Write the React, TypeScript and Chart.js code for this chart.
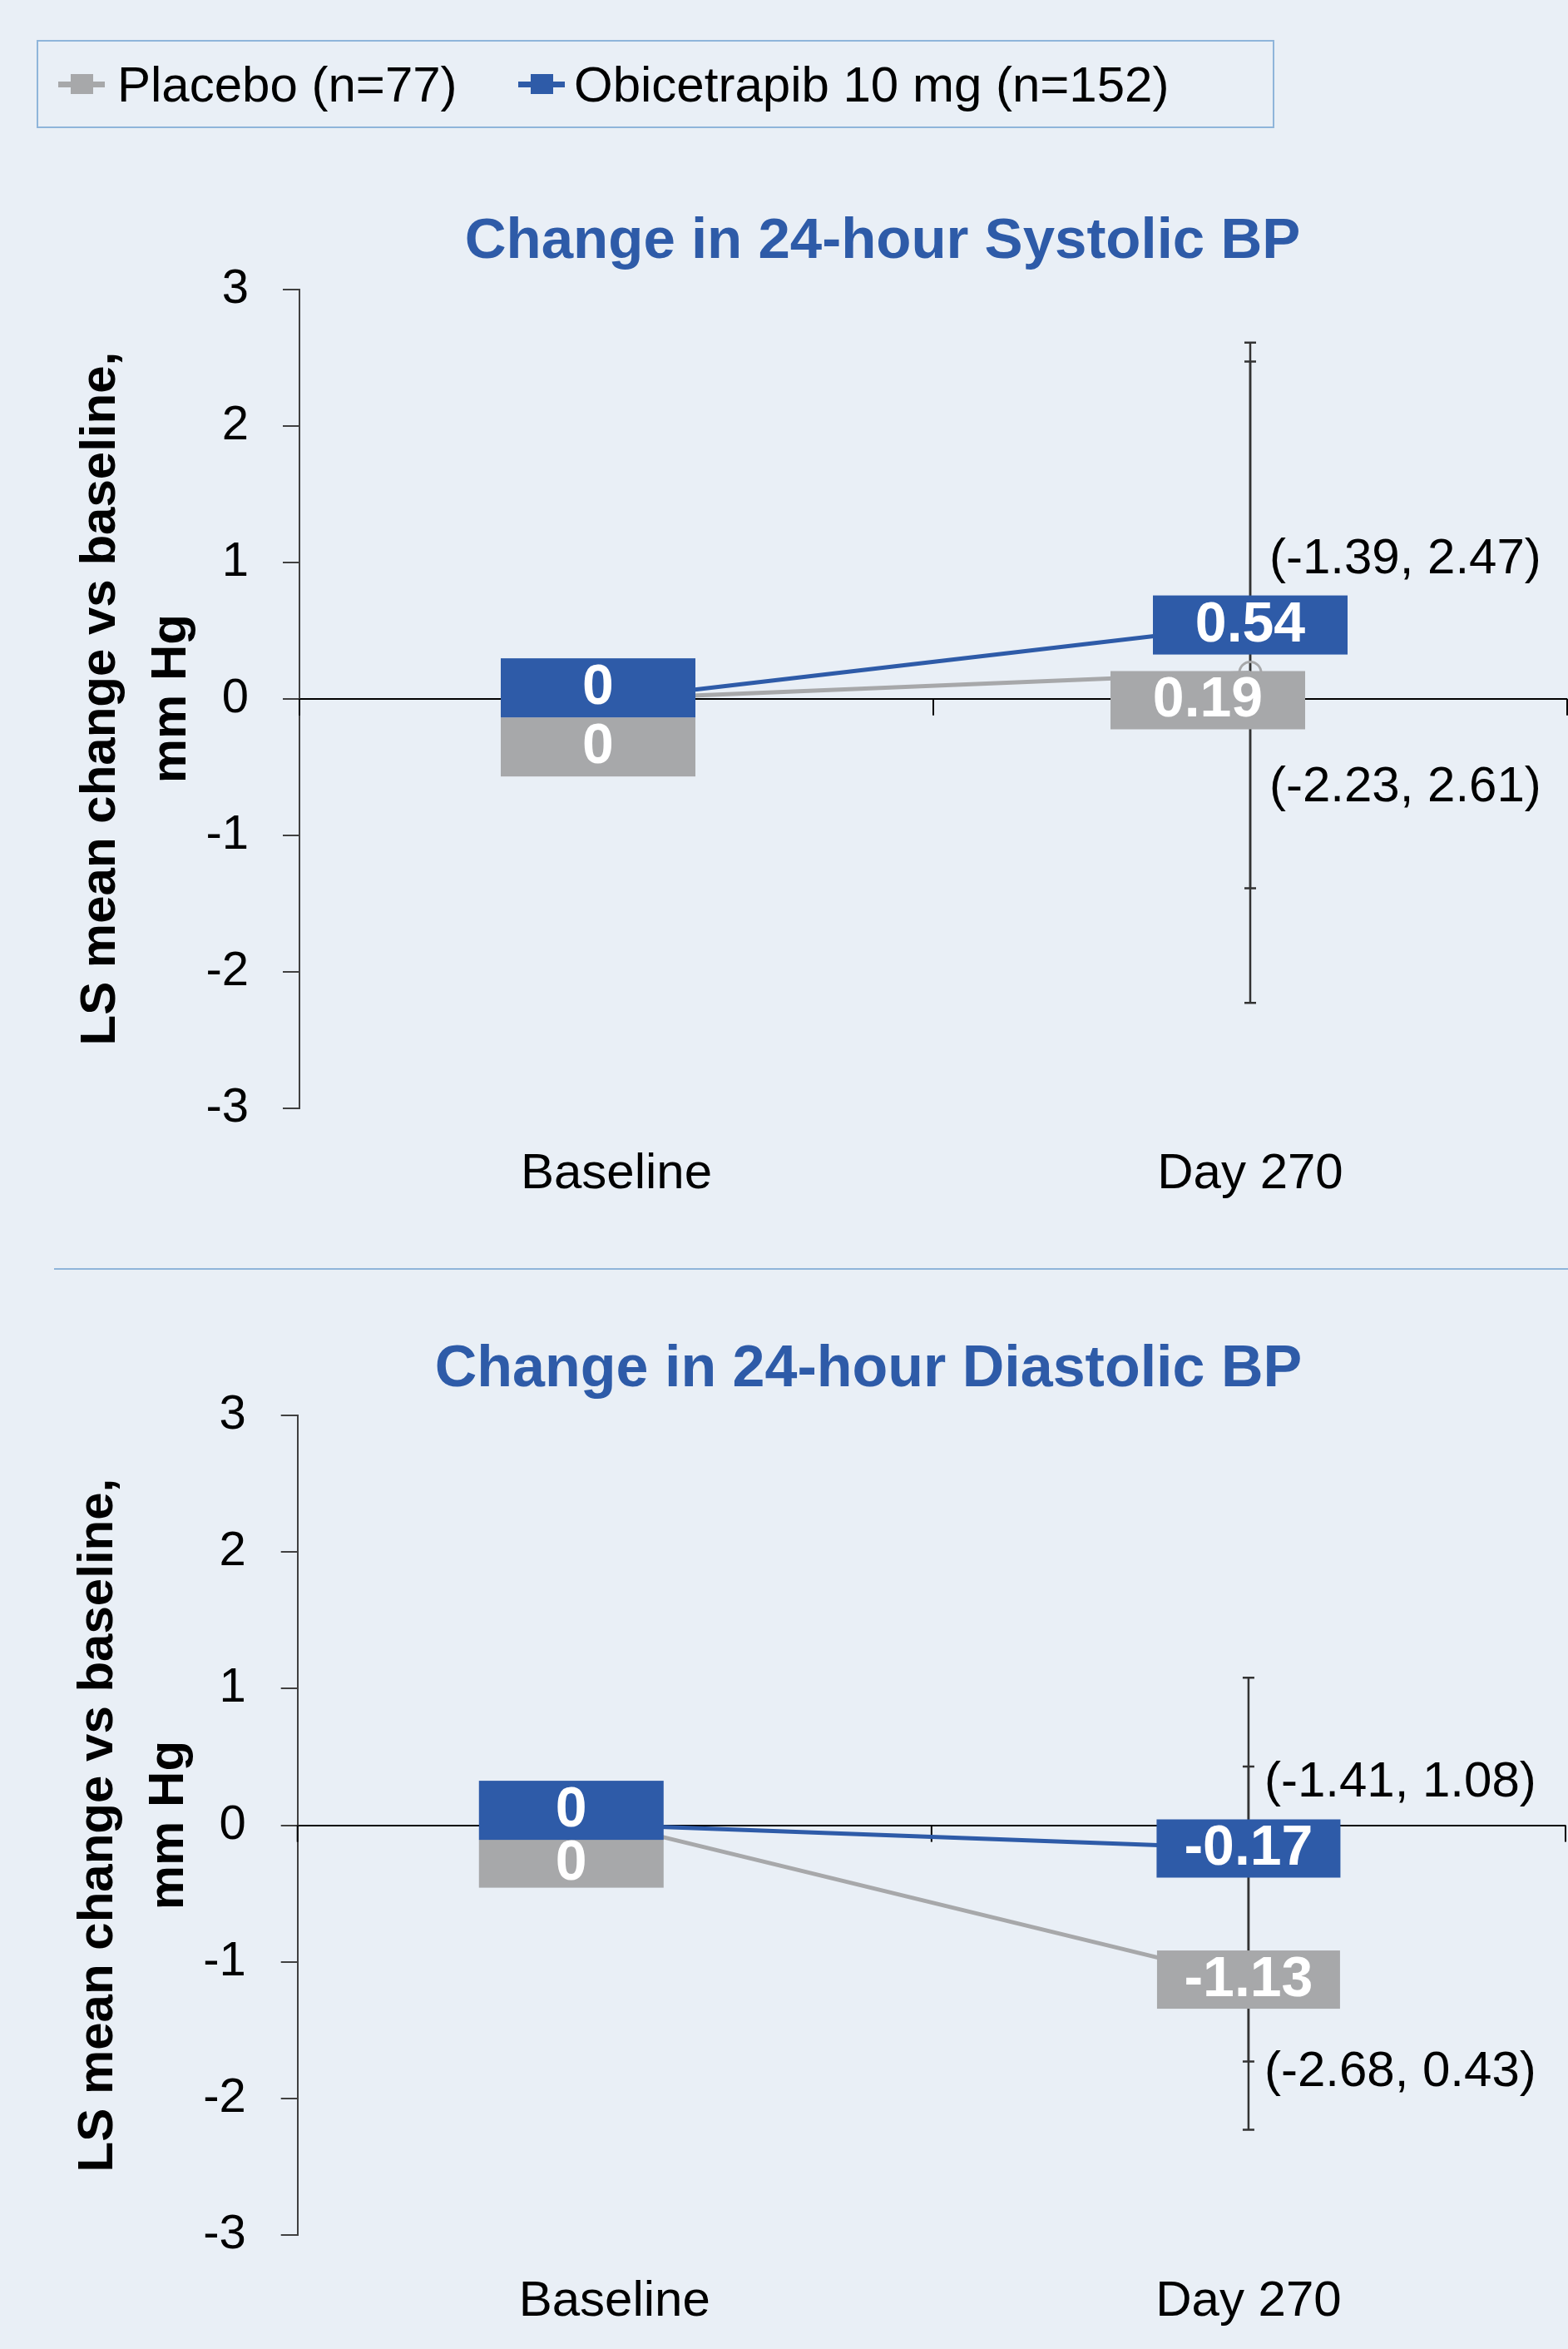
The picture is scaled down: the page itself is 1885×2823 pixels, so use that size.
import React, { useEffect, useRef } from 'react';
import { Chart, registerables } from 'chart.js';
Chart.register(...registerables);

// ---------------- data ----------------
const categories = ['Baseline', 'Day 270'];
const seriesNames = ['Placebo (n=77)', 'Obicetrapib 10 mg (n=152)'];
const yMin = -3;
const yMax = 3;
const yStep = 1;
const yAxisTitle = ['LS mean change vs baseline,', 'mm Hg'];

const systolicTitle = 'Change in 24-hour Systolic BP';
const systolicPlacebo = [0, 0.19];
const systolicObicetrapib = [0, 0.54];
// error bars as drawn [low, high] per category
const systolicPlaceboBars = [null, [-2.23, 2.61]];
const systolicObicetrapibBars = [null, [-1.39, 2.47]];
// 95% CI labels at Day 270
const systolicPlaceboCI = [-2.23, 2.61];
const systolicObicetrapibCI = [-1.39, 2.47];

const diastolicTitle = 'Change in 24-hour Diastolic BP';
const diastolicPlacebo = [0, -1.13];
const diastolicObicetrapib = [0, -0.17];
const diastolicPlaceboBars = [null, [-2.23, 0.43]];
const diastolicObicetrapibBars = [null, [-1.73, 1.08]];
const diastolicPlaceboCI = [-2.68, 0.43];
const diastolicObicetrapibCI = [-1.41, 1.08];

// ---------------- styles ----------------
const BG = '#E9EFF6';
const GRAY = '#A7A8AA';
const BLUE = '#2E5BA8';
const COLORS = [GRAY, BLUE];
const RULE = '#8FB5DA';
const FONT = '"Liberation Sans", Arial, sans-serif';

type Box = { dx: number; dy: number; w: number; h: number };

interface ChartParams {
  placebo: number[];
  obi: number[];
  bars: (number[] | null)[][];
  ci: number[][];
  ciOffsets: { dx: number; dy: number }[];
  boxes: Box[][];
  padTop: number;
  padRight: number;
  yWidth: number;
  xHeight: number;
  titlePad: number;
  tickPad: number;
}

function fmtCI(ci: number[]) {
  return `(${ci[0].toFixed(2)}, ${ci[1].toFixed(2)})`;
}

function fmtVal(v: number) {
  return v === 0 ? '0' : v.toFixed(2);
}

function makeOverlay(p: ChartParams) {
  return {
    id: 'overlay',
    beforeDatasetsDraw(chart: any) {
      const ctx = chart.ctx;
      const xs = chart.scales.x;
      const ys = chart.scales.y;
      ctx.save();
      // category boundary ticks on zero line
      const y0 = ys.getPixelForValue(0);
      ctx.strokeStyle = '#000';
      ctx.lineWidth = 2;
      for (let k = 0; k <= chart.data.labels.length; k++) {
        const x = xs.getPixelForValue(k - 0.5);
        ctx.beginPath();
        ctx.moveTo(x, y0);
        ctx.lineTo(x, y0 + 20);
        ctx.stroke();
      }
      // error bars
      ctx.strokeStyle = '#333333';
      ctx.lineWidth = 2.5;
      p.bars.forEach((bars, i) => {
        const meta = chart.getDatasetMeta(i);
        bars.forEach((b, j) => {
          if (!b) return;
          const x = meta.data[j].x;
          const yl = ys.getPixelForValue(b[0]);
          const yh = ys.getPixelForValue(b[1]);
          ctx.beginPath();
          ctx.moveTo(x, yl);
          ctx.lineTo(x, yh);
          ctx.moveTo(x - 7, yl);
          ctx.lineTo(x + 7, yl);
          ctx.moveTo(x - 7, yh);
          ctx.lineTo(x + 7, yh);
          ctx.stroke();
        });
      });
      ctx.restore();
    },
    afterDatasetsDraw(chart: any) {
      const ctx = chart.ctx;
      ctx.save();
      // value boxes
      chart.data.datasets.forEach((ds: any, i: number) => {
        const meta = chart.getDatasetMeta(i);
        ds.data.forEach((v: number, j: number) => {
          const el = meta.data[j];
          const b = p.boxes[i][j];
          const cx = el.x + b.dx;
          const cy = el.y + b.dy;
          ctx.fillStyle = COLORS[i];
          ctx.fillRect(cx - b.w / 2, cy - b.h / 2, b.w, b.h);
          ctx.fillStyle = '#FFFFFF';
          ctx.font = `bold 68px ${FONT}`;
          ctx.textAlign = 'center';
          ctx.textBaseline = 'middle';
          ctx.fillText(fmtVal(v), cx, cy + 1);
        });
      });
      // CI labels at last category
      ctx.fillStyle = '#000';
      ctx.font = `60px ${FONT}`;
      ctx.textAlign = 'left';
      ctx.textBaseline = 'middle';
      p.ci.forEach((ci, i) => {
        const meta = chart.getDatasetMeta(i);
        const el = meta.data[meta.data.length - 1];
        const o = p.ciOffsets[i];
        ctx.fillText(fmtCI(ci), el.x + o.dx, el.y + o.dy);
      });
      ctx.restore();
    },
  };
}

function makeConfig(p: ChartParams): any {
  const mk = (label: string, data: number[], color: string) => ({
    label,
    data,
    borderColor: color,
    backgroundColor: color,
    borderWidth: 5,
    pointRadius: 13,
    pointBorderWidth: 3,
    pointBackgroundColor: 'rgba(0,0,0,0)',
    pointBorderColor: color,
    tension: 0,
  });
  return {
    type: 'line',
    data: {
      labels: categories,
      datasets: [mk(seriesNames[0], p.placebo, GRAY), mk(seriesNames[1], p.obi, BLUE)],
    },
    options: {
      responsive: false,
      maintainAspectRatio: false,
      animation: false,
      devicePixelRatio: 1,
      layout: { autoPadding: false, padding: { top: p.padTop, right: p.padRight, left: 0, bottom: 0 } },
      plugins: {
        legend: { display: false },
        tooltip: { enabled: false },
        title: { display: false },
      },
      scales: {
        x: {
          type: 'category',
          offset: true,
          grid: { display: false, drawTicks: false },
          border: { display: false },
          ticks: { color: '#000', font: { family: FONT, size: 60 }, padding: 44, maxRotation: 0 },
          afterFit: (s: any) => {
            s.height = p.xHeight;
          },
        },
        y: {
          min: yMin,
          max: yMax,
          ticks: { stepSize: yStep, color: '#000', font: { family: FONT, size: 58 }, padding: p.tickPad },
          grid: {
            color: (c: any) => (c.tick && c.tick.value === 0 ? '#000' : 'rgba(0,0,0,0)'),
            lineWidth: 2,
            tickColor: '#404040',
            tickLength: 20,
            tickWidth: 2,
          },
          border: { display: true, color: '#404040', width: 2 },
          title: {
            display: true,
            text: yAxisTitle,
            color: '#000',
            font: { family: FONT, size: 60, weight: 'bold', lineHeight: 85 / 60 },
            padding: { top: p.titlePad, bottom: 0 },
          },
          afterFit: (s: any) => {
            s.width = p.yWidth;
          },
        },
      },
    },
    plugins: [makeOverlay(p)],
  };
}

// top chart canvas: page y 260..1500 ; chart area 347.7..1331.6
const TOP_CANVAS_Y = 260;
const TOP_CANVAS_H = 1240;
// bottom chart canvas: page y 1560..2823 ; chart area 1701.2..2686
const BOT_CANVAS_Y = 1560;
const BOT_CANVAS_H = 1263;

const topParams: ChartParams = {
  placebo: systolicPlacebo,
  obi: systolicObicetrapib,
  bars: [systolicPlaceboBars as any, systolicObicetrapibBars as any],
  ci: [systolicPlaceboCI, systolicObicetrapibCI],
  ciOffsets: [
    { dx: 23, dy: 138 },
    { dx: 23, dy: -79 },
  ],
  boxes: [
    [
      { dx: -22, dy: 58, w: 234, h: 71 },
      { dx: -51, dy: 33, w: 234, h: 70 },
    ],
    [
      { dx: -22, dy: -13, w: 234, h: 71 },
      { dx: 0, dy: 0, w: 234, h: 71 },
    ],
  ],
  padTop: 347.7 - TOP_CANVAS_Y,
  padRight: 1,
  yWidth: 360,
  xHeight: TOP_CANVAS_Y + TOP_CANVAS_H - 1331.6,
  titlePad: 79,
  tickPad: 41,
};

const botParams: ChartParams = {
  placebo: diastolicPlacebo,
  obi: diastolicObicetrapib,
  bars: [diastolicPlaceboBars as any, diastolicObicetrapibBars as any],
  ci: [diastolicPlaceboCI, diastolicObicetrapibCI],
  ciOffsets: [
    { dx: 19, dy: 111 },
    { dx: 19, dy: -79 },
  ],
  boxes: [
    [
      { dx: -52, dy: 46, w: 222, h: 58 },
      { dx: 0, dy: 0, w: 220, h: 70 },
    ],
    [
      { dx: -52, dy: -18, w: 222, h: 71 },
      { dx: 0, dy: 0, w: 221, h: 70 },
    ],
  ],
  padTop: 1701.2 - BOT_CANVAS_Y,
  padRight: 3,
  yWidth: 357.7,
  xHeight: BOT_CANVAS_Y + BOT_CANVAS_H - 2686,
  titlePad: 76,
  tickPad: 42,
};

function LegendItem({ left, textLeft, color, text }: { left: number; textLeft: number; color: string; text: string }) {
  return (
    <>
      <div style={{ position: 'absolute', left, top: 98, width: 56, height: 7, background: color }} />
      <div style={{ position: 'absolute', left: left + 15, top: 89, width: 27, height: 24, background: color }} />
      <div
        style={{
          position: 'absolute',
          left: textLeft,
          top: 72,
          fontSize: 60,
          lineHeight: '60px',
          color: '#000',
          whiteSpace: 'nowrap',
        }}
      >
        {text}
      </div>
    </>
  );
}

export default function App() {
  const topRef = useRef<HTMLCanvasElement>(null);
  const botRef = useRef<HTMLCanvasElement>(null);

  useEffect(() => {
    const c1 = new Chart(topRef.current as HTMLCanvasElement, makeConfig(topParams));
    const c2 = new Chart(botRef.current as HTMLCanvasElement, makeConfig(botParams));
    return () => {
      c1.destroy();
      c2.destroy();
    };
  }, []);

  const titleStyle = (top: number, center: number, size: number): React.CSSProperties => ({
    position: 'absolute',
    left: center - 700,
    width: 1400,
    top,
    textAlign: 'center',
    fontSize: size,
    lineHeight: `${size}px`,
    fontWeight: 'bold',
    color: BLUE,
    whiteSpace: 'nowrap',
  });

  return (
    <div
      style={{
        position: 'absolute',
        left: 0,
        top: 0,
        width: 1885,
        height: 2823,
        background: BG,
        overflow: 'hidden',
        fontFamily: FONT,
      }}
    >
      {/* legend */}
      <div
        style={{
          position: 'absolute',
          left: 44,
          top: 48,
          width: 1488,
          height: 106,
          boxSizing: 'border-box',
          border: `2px solid ${RULE}`,
        }}
      />
      <LegendItem left={70} textLeft={141} color={GRAY} text={seriesNames[0]} />
      <LegendItem left={623} textLeft={690} color={BLUE} text={seriesNames[1]} />

      {/* titles */}
      <div style={titleStyle(252, 1061, 69)}>{systolicTitle}</div>
      <div style={titleStyle(1607, 1044, 70)}>{diastolicTitle}</div>

      {/* divider */}
      <div style={{ position: 'absolute', left: 65, top: 1524, width: 1820, height: 2, background: RULE }} />

      <canvas
        ref={topRef}
        width={1885}
        height={TOP_CANVAS_H}
        style={{ position: 'absolute', left: 0, top: TOP_CANVAS_Y, width: 1885, height: TOP_CANVAS_H }}
      />
      <canvas
        ref={botRef}
        width={1885}
        height={BOT_CANVAS_H}
        style={{ position: 'absolute', left: 0, top: BOT_CANVAS_Y, width: 1885, height: BOT_CANVAS_H }}
      />
    </div>
  );
}
